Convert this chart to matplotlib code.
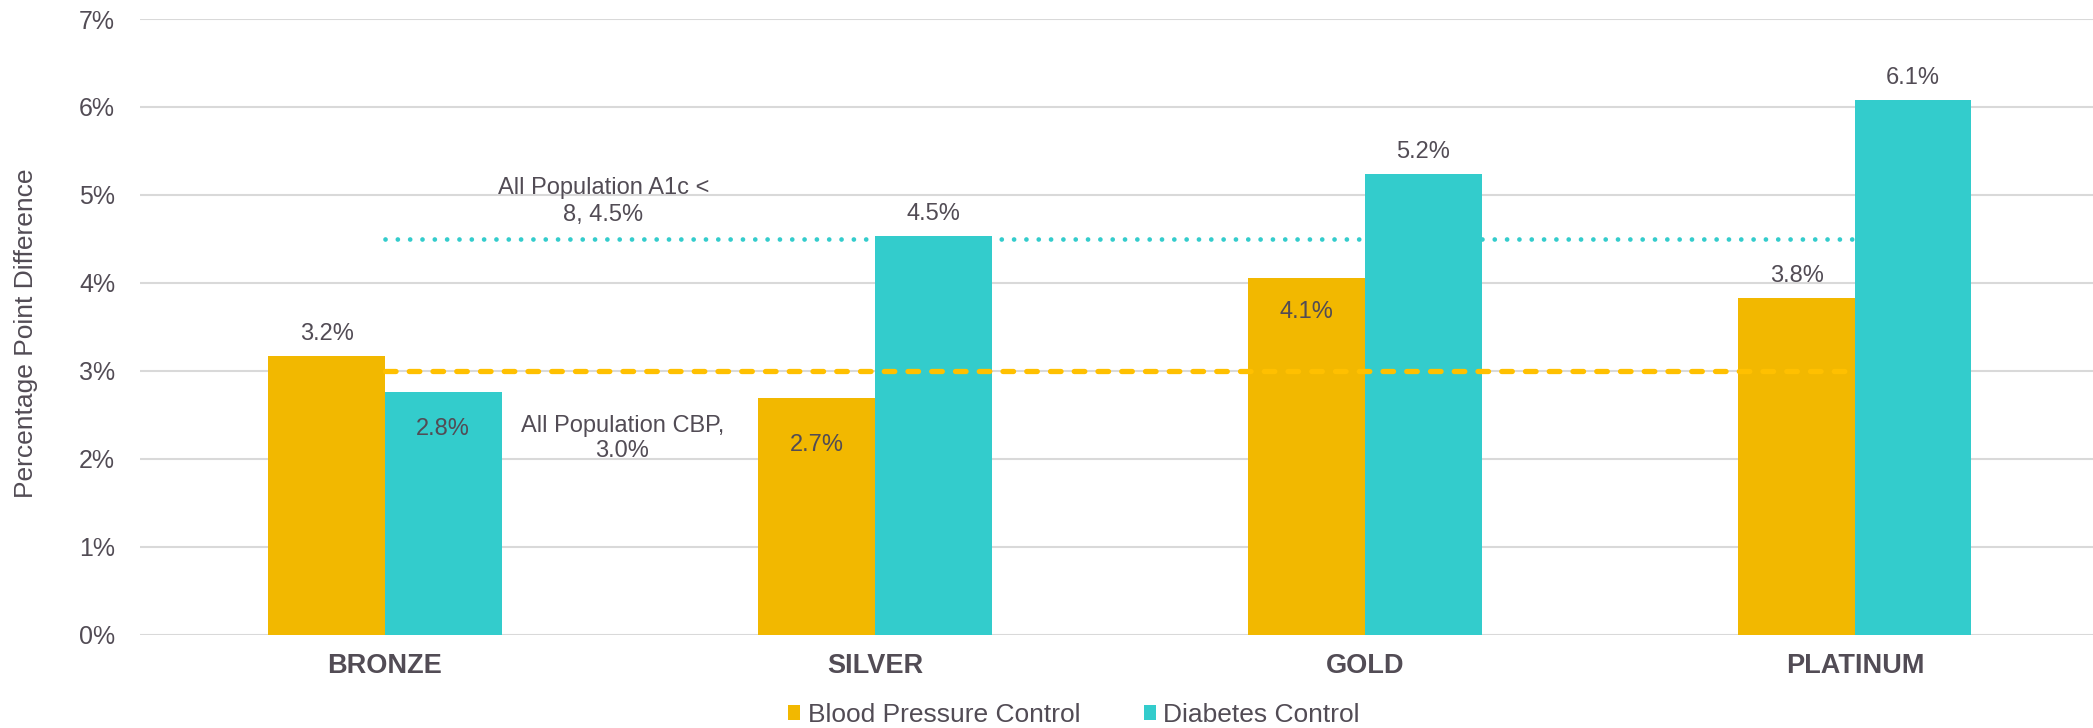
import matplotlib
matplotlib.use("Agg")
import matplotlib.pyplot as plt
import numpy as np

plt.rcParams['font.family'] = ['Liberation Sans', 'DejaVu Sans']

categories = ['BRONZE', 'SILVER', 'GOLD', 'PLATINUM']
bp_control = [3.17, 2.69, 4.06, 3.83]
diabetes_control = [2.76, 4.53, 5.24, 6.08]
cbp_all_pop = 3.0
a1c_all_pop = 4.5
yticks = [0, 1, 2, 3, 4, 5, 6, 7]

# label offsets from the bar top, in points (negative = inside the bar)
bp_label_offset = [11.5, -38, -29, 11.5]
dm_label_offset = [-31, 11.5, 11.5, 11.5]

text_color = '#524C55'
orange = '#F2B800'
teal = '#33CCCC'

W, H = 2093, 728
fig = plt.figure(figsize=(W / 100, H / 100), dpi=100)
ax = fig.add_axes([140 / W, (H - 634.6) / H, (W - 140) / W, (634.6 - 19) / H])

x = np.arange(len(categories))
bw = 0.238
bars_bp = ax.bar(x - bw / 2, bp_control, bw, color=orange, label='Blood Pressure Control', zorder=2)
bars_dm = ax.bar(x + bw / 2, diabetes_control, bw, color=teal, label='Diabetes Control', zorder=2)

# all-population reference lines across the category centres
ax.plot(x, [cbp_all_pop] * len(x), color='#FFC000', lw=3.8,
        linestyle=(0, (2.0, 2.5)), dash_capstyle='round', zorder=3)
ax.plot(x, [a1c_all_pop] * len(x), color=teal, lw=3.4,
        linestyle=(0, (0.01, 2.6)), dash_capstyle='round', zorder=3)

for bars, vals, offs in [(bars_bp, bp_control, bp_label_offset),
                         (bars_dm, diabetes_control, dm_label_offset)]:
    for b, v, o in zip(bars, vals, offs):
        ax.annotate(f'{v:.1f}%', (b.get_x() + b.get_width() / 2, v),
                    xytext=(0, o), textcoords='offset points',
                    ha='center', va='baseline', fontsize=17,
                    color=text_color, zorder=4)

ax.text(0.446, 4.70, 'All Population A1c <\n8, 4.5%', ha='center', va='baseline',
        fontsize=17, color=text_color, linespacing=1.3)
ax.text(0.484, 2.02, 'All Population CBP,\n3.0%', ha='center', va='baseline',
        fontsize=17, color=text_color, linespacing=1.15)

ax.set_xlim(-0.5, 3.486)
ax.set_ylim(0, 7)
ax.set_yticks(yticks)
ax.set_yticklabels([f'{t}%' for t in yticks])
ax.set_xticks(x)
ax.set_xticklabels(categories, fontweight='bold', fontsize=19.5)
ax.tick_params(axis='y', length=0, pad=18, labelsize=18, labelcolor=text_color)
ax.tick_params(axis='x', length=0, pad=13, labelcolor=text_color)
ax.grid(axis='y', color='#D9D9D9', lw=1.5, zorder=0)
ax.set_axisbelow(True)
for s in ax.spines.values():
    s.set_visible(False)

fig.text(26 / W, (H - 333) / H, 'Percentage Point Difference', rotation=90,
         ha='center', va='center', fontsize=19, color=text_color)

leg = fig.legend(handles=[bars_bp, bars_dm], loc='center',
                 bbox_to_anchor=(1074 / W, (H - 715) / H), ncol=2, frameon=False,
                 fontsize=19, handlelength=0.45, handleheight=0.5,
                 handletextpad=0.3, columnspacing=2.4, borderpad=0)
for t in leg.get_texts():
    t.set_color(text_color)

fig.savefig('out.png', dpi=100)
